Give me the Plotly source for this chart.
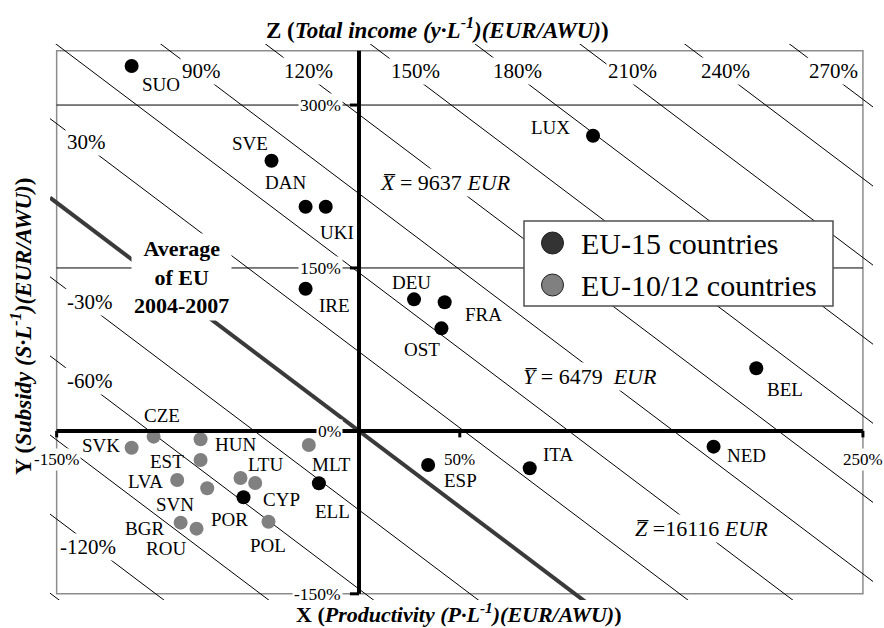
import plotly.graph_objects as go

# ---------------- data (percent deviation from EU average) ----------------
eu15_names = ["SUO", "SVE", "DAN", "UKI", "IRE", "DEU", "FRA", "OST", "LUX", "BEL",
              "NED", "ITA", "ESP", "ELL", "POR"]
eu15_x = [-112.8, -43.4, -26.5, -16.5, -26.5, 27.3, 42.5, 40.9, 116.1, 197.1,
          175.9, 84.7, 34.3, -19.9, -57.3]
eu15_y = [335.9, 248.7, 206.4, 206.4, 130.9, 121.1, 118.4, 94.4, 271.7, 57.6,
          -14.5, -34.4, -31.4, -48.2, -61.1]

eu12_names = ["SVK", "CZE", "HUN", "EST", "LVA", "SVN", "BGR", "ROU", "LTU", "CYP",
              "POL", "MLT"]
eu12_x = [-112.8, -101.9, -78.6, -78.6, -90.2, -75.3, -88.5, -80.6, -58.8, -51.5,
          -44.9, -24.9]
eu12_y = [-15.5, -5.3, -7.7, -26.8, -45.2, -52.8, -84.5, -90.0, -43.4, -48.0,
          -83.6, -13.0]

# iso-income lines  Z = wx*X + wy*Y
z_levels = [-150, -120, -90, -60, -30, 0, 30, 60, 90, 120, 150, 180, 210, 240, 270]
z_weight_x = 0.577
z_weight_y = 0.412

x_tick_vals = [-150, 50, 250]
x_tick_text = ["-150%", "50%", "250%"]
y_tick_vals = [300, 150, 0, -150]
y_tick_text = ["300%", "150%", "0%", "-150%"]
y_grid_vals = [150, 300]

legend_names = ["EU-15 countries", "EU-10/12 countries"]

# ---------------- layout geometry ----------------
W, H = 884, 628
ML, MR, MT, MB = 50, 11, 44, 28
PW, PH = W - ML - MR, H - MT - MB
X_RANGE = [-153.3, 255.0]
Y_RANGE = [-155.7, 356.2]
BOX = dict(x0=-150, x1=250, y0=-150, y1=350)


def fx(p):
    return (p - ML) / PW


def fy(p):
    return (H - MB - p) / PH


FONT = "Liberation Serif, Tinos, Times New Roman, Times, serif"
C = dict(xanchor="center", yanchor="middle")

fig = go.Figure()

# iso lines
for z in z_levels:
    xs = X_RANGE
    ys = [(z - z_weight_x * x) / z_weight_y for x in xs]
    if z == 0:
        fig.add_trace(go.Scatter(x=xs, y=ys, mode="lines",
                                 line=dict(color="#3a3a3a", width=4),
                                 hoverinfo="skip", showlegend=False))
    else:
        fig.add_trace(go.Scatter(x=xs, y=ys, mode="lines",
                                 line=dict(color="black", width=1),
                                 hoverinfo="skip", showlegend=False))

# country points
fig.add_trace(go.Scatter(x=eu15_x, y=eu15_y, mode="markers", name=legend_names[0],
                         text=eu15_names, marker=dict(color="black", size=14),
                         showlegend=False))
fig.add_trace(go.Scatter(x=eu12_x, y=eu12_y, mode="markers", name=legend_names[1],
                         text=eu12_names, marker=dict(color="#808080", size=14),
                         showlegend=False))

shapes = []
# plot box
shapes.append(dict(type="rect", xref="x", yref="y", **BOX,
                   line=dict(color="#8c8c8c", width=1.5), layer="below"))
# horizontal grid lines
for g in y_grid_vals:
    shapes.append(dict(type="line", xref="x", yref="y", x0=BOX["x0"], x1=BOX["x1"],
                       y0=g, y1=g, line=dict(color="black", width=1), layer="below"))
# thick axes
shapes.append(dict(type="line", xref="x", yref="y", x0=0, x1=0, y0=BOX["y0"], y1=BOX["y1"],
                   line=dict(color="black", width=4)))
shapes.append(dict(type="line", xref="x", yref="y", x0=BOX["x0"], x1=BOX["x1"], y0=0, y1=0,
                   line=dict(color="black", width=4)))
# tick marks
for v in x_tick_vals:
    shapes.append(dict(type="line", xref="x", yref="y", x0=v, x1=v, y0=0, y1=-6,
                       line=dict(color="black", width=3)))
for v in y_tick_vals:
    if v != 0:
        shapes.append(dict(type="line", xref="x", yref="y", x0=-4.5, x1=0, y0=v, y1=v,
                           line=dict(color="black", width=3)))

# manual legend
shapes.append(dict(type="rect", xref="paper", yref="paper",
                   x0=fx(524), x1=fx(833), y0=fy(306), y1=fy(221),
                   fillcolor="white", line=dict(color="#505050", width=1.5)))
for cy, col in [(243, "#333333"), (285, "#808080")]:
    shapes.append(dict(type="circle", xref="paper", yref="paper",
                       x0=fx(552.5 - 11), x1=fx(552.5 + 11), y0=fy(cy + 11), y1=fy(cy - 11),
                       fillcolor=col, line=dict(color="#222222", width=1)))

ann = []
# country labels (pixel offsets from the point)
eu15_off = [(29, -18), (-22, 17), (-20, 24), (11, -26), (29, -17), (-3, 17), (39, -12),
            (-19, -21), (-43, 8), (29, -21), (33, -9), (28, 14), (32, -16), (14, -28),
            (-14, -22)]
eu12_off = [(-31, 2), (8, 21), (35, -5), (-34, -1), (-32, -2), (-32, -16), (-36, -6),
            (-31, -20), (25, 14), (26, -16), (-1, -24), (23, -19)]
for names, xs, ys, offs in [(eu15_names, eu15_x, eu15_y, eu15_off),
                            (eu12_names, eu12_x, eu12_y, eu12_off)]:
    for n, x, y, (dx, dy) in zip(names, xs, ys, offs):
        ann.append(dict(x=x, y=y, xref="x", yref="y", text=n, showarrow=False, **C,
                        xshift=dx, yshift=dy, font=dict(family=FONT, size=19, color="black")))

# iso-line labels
line_labels = [("90%", 201, 71), ("120%", 308, 71), ("150%", 415, 71), ("180%", 517, 71),
               ("210%", 632, 71), ("240%", 725, 71), ("270%", 833, 71),
               ("30%", 86, 142), ("-30%", 90, 302), ("-60%", 90, 381), ("-120%", 88, 547)]
for t, px_, py_ in line_labels:
    ann.append(dict(x=fx(px_), y=fy(py_), xref="paper", yref="paper", text=t, **C,
                    showarrow=False, bgcolor="white", borderpad=1,
                    font=dict(family=FONT, size=21, color="black")))

# mean values
means = [("<i>X\u0305</i> = 9637 <i>EUR</i>", 445, 182),
         ("<i>Y\u0305</i> = 6479  <i>EUR</i>", 590, 376),
         ("<i>Z\u0305</i> =16116 <i>EUR</i>", 701, 528)]
for t, px_, py_ in means:
    ann.append(dict(x=fx(px_), y=fy(py_), xref="paper", yref="paper", text=t, **C,
                    showarrow=False, bgcolor="white", borderpad=1,
                    font=dict(family=FONT, size=22, color="black")))

# average label
ann.append(dict(x=fx(181), y=fy(277), xref="paper", yref="paper", **C,
                text="<b>Average<br>of EU<br>2004-2007</b>", showarrow=False,
                bgcolor="white", borderpad=2,
                font=dict(family=FONT, size=22, color="black")))

# axis tick labels
for v, t in zip(y_tick_vals, y_tick_text):
    ann.append(dict(x=-8, y=v, xref="x", yref="y", text=t, showarrow=False,
                    xanchor="right", yanchor="middle", bgcolor="white", borderpad=1,
                    font=dict(family=FONT, size=17.5, color="black")))
for v, t in zip(x_tick_vals, x_tick_text):
    ann.append(dict(x=v, y=-26, xref="x", yref="y", text=t, showarrow=False, **C,
                    bgcolor="white", borderpad=1,
                    font=dict(family=FONT, size=17, color="black")))

# axis titles
ann.append(dict(x=fx(437), y=fy(29), xref="paper", yref="paper", **C,
                text="<b>Z (<i>Total income (y·L<sup>-1</sup>)(EUR/AWU)</i>)</b>",
                showarrow=False, font=dict(family=FONT, size=23, color="black")))
ann.append(dict(x=fx(459), y=fy(613), xref="paper", yref="paper", **C,
                text="<b>X (<i>Productivity (P·L<sup>-1</sup>)(EUR/AWU)</i>)</b>",
                showarrow=False, font=dict(family=FONT, size=22, color="black")))
ann.append(dict(x=fx(22), y=fy(327), xref="paper", yref="paper", textangle=-90, **C,
                text="<b>Y (<i>Subsidy (S·L<sup>-1</sup>)(EUR/AWU)</i>)</b>",
                showarrow=False, font=dict(family=FONT, size=23, color="black")))

# legend texts
for t, py_ in zip(legend_names, [243, 285]):
    ann.append(dict(x=fx(579), y=fy(py_), xref="paper", yref="paper", text=t,
                    xanchor="left", yanchor="middle", showarrow=False,
                    font=dict(family=FONT, size=30, color="black")))

fig.update_layout(
    width=W, height=H,
    margin=dict(l=ML, r=MR, t=MT, b=MB, pad=0),
    paper_bgcolor="white", plot_bgcolor="white",
    font=dict(family=FONT),
    xaxis=dict(range=X_RANGE, visible=False, fixedrange=True),
    yaxis=dict(range=Y_RANGE, visible=False, fixedrange=True),
    shapes=shapes, annotations=ann, showlegend=False,
)

fig.write_html("out.html", config={"displayModeBar": False},
               post_script="document.body.style.margin='0';document.body.style.overflow='hidden';")
